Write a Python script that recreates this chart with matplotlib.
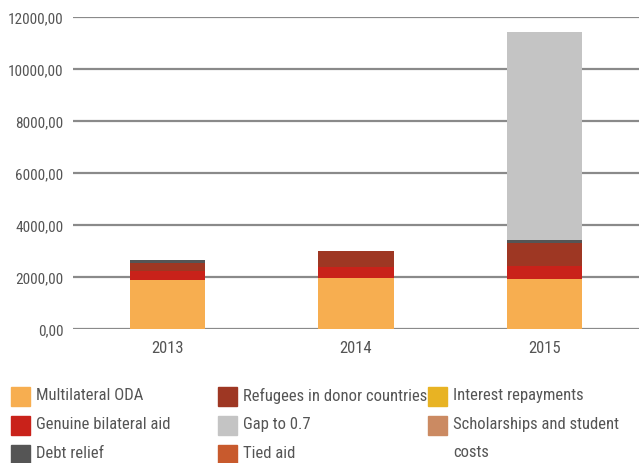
import matplotlib
matplotlib.use("Agg")
import matplotlib.pyplot as plt
from matplotlib import font_manager
from matplotlib.patches import Rectangle

names = {f.name for f in font_manager.fontManager.ttflist}
fam = "DejaVu Sans"
for cand in ["Liberation Sans Narrow", "DejaVu Sans Condensed", "Roboto Condensed", "Open Sans Condensed"]:
    if cand in names:
        fam = cand
        break
plt.rcParams['font.family'] = [fam, 'DejaVu Sans']

years = ["2013", "2014", "2015"]
multilateral = [1896, 1962, 1923]
genuine_bilateral = [346, 434, 500]
refugees = [308, 604, 896]
debt_relief = [104, 0, 104]
gap = [0, 0, 8000]
tied_aid = [0, 0, 0]
interest = [0, 0, 0]
scholarships = [0, 0, 0]
values = [multilateral, genuine_bilateral, refugees, debt_relief, gap, tied_aid, interest, scholarships]
colors = ["#F7AE50", "#C9221A", "#9E3723", "#555555", "#C4C4C4", "#C85A2D", "#E8B323", "#CB8A62"]
yticks = [0, 2000, 4000, 6000, 8000, 10000, 12000]
ytick_labels = ["0,00", "2000,00", "4000,00", "6000,00", "8000,00", "10000,00", "12000,00"]

fig = plt.figure(figsize=(6.39, 4.64), dpi=100)
ax = fig.add_axes([73/639, 1-330/464, 1-73/639, (330-18)/464])
x = list(range(len(years)))
bottom = [0]*len(years)
for vals, c in zip(values, colors):
    ax.bar(x, vals, width=0.4, bottom=bottom, color=c, zorder=3)
    bottom = [b+v for b, v in zip(bottom, vals)]
ax.set_xlim(-0.5, 2.5)
ax.set_ylim(0, 12000)
ax.set_yticks(yticks)
ax.set_yticklabels(ytick_labels)
ax.set_xticks(x)
ax.set_xticklabels(years)
ax.yaxis.grid(True, color="#8a8a8a", linewidth=1.6, zorder=0)
ax.set_axisbelow(True)
for s in ax.spines.values():
    s.set_visible(False)
ax.tick_params(axis='both', length=0, colors="#555555")
ax.tick_params(axis='y', pad=7, labelsize=11)
ax.tick_params(axis='x', pad=8, labelsize=12)

# legend, row-major layout
legend_order = [("Multilateral ODA", colors[0]), ("Refugees in donor countries", colors[2]),
                ("Interest repayments", colors[6]), ("Genuine bilateral aid", colors[1]),
                ("Gap to 0.7", colors[4]), ("Scholarships and student\ncosts", colors[7]),
                ("Debt relief", colors[3]), ("Tied aid", colors[5])]
col_x = [11, 218, 428]
row_y = [398, 427, 456]
W, H = 639, 464
for i, (lab, c) in enumerate(legend_order):
    r, cidx = divmod(i, 3)
    px, py = col_x[cidx], row_y[r]
    fig.patches.append(Rectangle((px/W, 1-(py+9)/H), 19/W, 19/H, transform=fig.transFigure,
                                 color=c, figure=fig))
    fig.text((px+25)/W, 1-(py-10)/H, lab, fontsize=12, color="#555555", va='top', ha='left',
             linespacing=2.05)

fig.savefig("out.png", dpi=100)
